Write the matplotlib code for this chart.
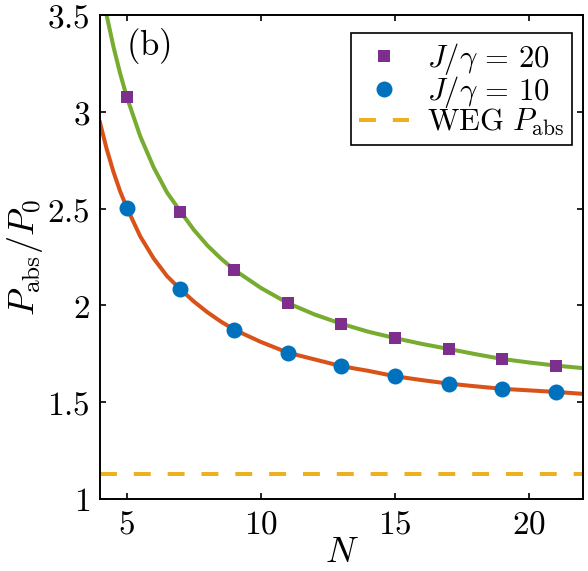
import numpy as np
import matplotlib.pyplot as plt

plt.rcParams['font.family'] = 'serif'
plt.rcParams['mathtext.fontset'] = 'cm'
plt.rcParams['font.serif'] = ['DejaVu Serif']

# data points
N_pts = [5, 7, 9, 11, 13, 15, 17, 19, 21]
p_J20 = [3.077, 2.485, 2.184, 2.012, 1.906, 1.831, 1.775, 1.723, 1.689]
p_J10 = [2.504, 2.083, 1.875, 1.756, 1.686, 1.634, 1.596, 1.569, 1.553]

# fitted curves
N_curve = [4, 4.25, 4.5, 4.75, 5, 5.5, 6, 6.5, 7, 7.5, 8, 8.5, 9, 10, 11, 12,
           13, 14, 15, 16, 17, 18, 19, 20, 21, 22]
curve_J20 = [3.685, 3.498, 3.338, 3.199, 3.077, 2.874, 2.713, 2.583, 2.485,
             2.39, 2.31, 2.243, 2.184, 2.09, 2.012, 1.953, 1.905, 1.864,
             1.831, 1.801, 1.775, 1.748, 1.723, 1.705, 1.689, 1.676]
curve_J10 = [2.945, 2.808, 2.691, 2.590, 2.505, 2.357, 2.243, 2.151, 2.083,
             2.02, 1.965, 1.917, 1.875, 1.811, 1.756, 1.721, 1.686, 1.662,
             1.634, 1.614, 1.596, 1.582, 1.569, 1.561, 1.553, 1.543]
weg_level = 1.127

xticks = [5, 10, 15, 20]
yticks = [1, 1.5, 2, 2.5, 3, 3.5]

fig = plt.figure(figsize=(5.88, 5.71), dpi=100)
ax = fig.add_axes([0.170, 0.1261, 0.8215, 0.8476])

ax.plot(N_curve, curve_J20, color='#77AC30', lw=2.9, zorder=2)
ax.plot(N_curve, curve_J10, color='#D95319', lw=2.9, zorder=2)
ax.axhline(weg_level, color='#EDB120', lw=2.9, ls=(0, (4.2, 4.2)),
           label=r'$\mathrm{WEG}\ P_{\rm abs}$', zorder=1)
ax.plot(N_pts, p_J20, 's', color='#7E2F8E', ms=9, mew=0, zorder=3,
        label=r'$J/\gamma\,=\,20$')
ax.plot(N_pts, p_J10, 'o', color='#0072BD', ms=11.5, mew=0, zorder=3,
        label=r'$J/\gamma\,=\,10$')

ax.set_xlim(4, 22)
ax.set_ylim(1, 3.5)
ax.set_xticks(xticks)
ax.set_xticklabels(['$%g$' % t for t in xticks])
ax.set_yticks(yticks)
ax.set_yticklabels(['$%g$' % t for t in yticks])
ax.tick_params(direction='in', length=4.5, width=1.2, labelsize=24,
               top=True, right=True, pad=7)
for s in ax.spines.values():
    s.set_linewidth(1.4)

ax.set_xlabel('$N$', fontsize=26, labelpad=-4)
ax.set_ylabel(r'$P_{\rm abs}/P_0$', fontsize=26, labelpad=2)

ax.text(0.054, 0.978, r'$\mathrm{(b)}$', transform=ax.transAxes,
        fontsize=25, va='top', ha='left')

h, l = ax.get_legend_handles_labels()
order = [1, 2, 0]
leg = ax.legend([h[i] for i in order], [l[i] for i in order],
                loc='upper right', fontsize=22, fancybox=False,
                framealpha=1, edgecolor='black', handlelength=1.65,
                borderpad=0.25, labelspacing=-0.1, handletextpad=0.6,
                borderaxespad=0, bbox_to_anchor=(0.977, 0.963))
leg.get_frame().set_linewidth(1.2)

fig.savefig('out.png', dpi=100)
